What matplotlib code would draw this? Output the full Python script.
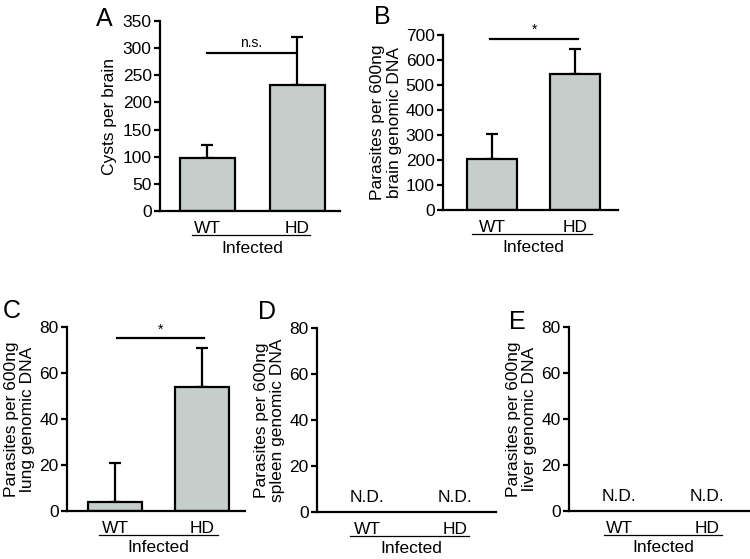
import matplotlib
matplotlib.use('Agg')
import matplotlib.pyplot as plt
from matplotlib.transforms import offset_copy

plt.rcParams['font.family'] = ['Liberation Sans', 'DejaVu Sans']

GROUPS = ['WT', 'HD']

cysts_mean = [97, 233]
cysts_err = [25, 87]

brain_mean = [205, 543]
brain_err = [100, 100]

lung_mean = [4, 54]
lung_err = [17, 17]

BAR_COLOR = '#c6cecc'
LW = 1.6
FS = 12.5


def style_axis(ax, ylim, yticks, xlim):
    ax.set_ylim(*ylim)
    ax.set_yticks(yticks)
    ax.set_xlim(*xlim)
    ax.set_xticks([0, 1], GROUPS)
    for side in ['top', 'right']:
        ax.spines[side].set_visible(False)
    for side in ['left', 'bottom']:
        ax.spines[side].set_linewidth(LW)
    ax.tick_params(axis='y', length=4, width=LW, labelsize=FS, pad=2)
    ax.tick_params(axis='x', length=0, labelsize=FS, pad=7)


def infected_label(ax, fig, x0, x1):
    trans = offset_copy(ax.get_xaxis_transform(), fig=fig, y=-24, units='dots')
    ax.plot([x0, x1], [0, 0], color='black', lw=0.9, transform=trans, clip_on=False)
    ax.annotate('Infected', xy=(0.5, 0), xycoords=('data', 'axes fraction'),
                xytext=(0, -37), textcoords='offset pixels',
                ha='center', va='center', fontsize=FS)


def bars(ax, means, errs, width):
    ax.bar([0, 1], means, width=width, color=BAR_COLOR, edgecolor='black',
           linewidth=LW, zorder=2)
    ax.errorbar([0, 1], means, yerr=[[0, 0], errs], fmt='none', ecolor='black',
                elinewidth=LW, capsize=4, capthick=LW, zorder=1)


def sig(ax, x0, x1, y, label, ty, size):
    ax.plot([x0, x1], [y, y], color='black', lw=LW, clip_on=False)
    ax.text((x0 + x1) / 2, ty, label, ha='center', va='center', fontsize=size,
            clip_on=False)


fig = plt.figure(figsize=(7.5, 5.59), dpi=100)

# A
axA = fig.add_axes([0.2133, 0.6225, 0.24, 0.3399])
bars(axA, cysts_mean, cysts_err, 0.61)
style_axis(axA, (0, 350), range(0, 351, 50), (-0.528, 1.472))
axA.set_ylabel('Cysts per brain', fontsize=FS, labelpad=4)
sig(axA, 0.0, 0.97, 292, 'n.s.', 310, 10)
infected_label(axA, fig, -0.17, 1.14)

# B
axB = fig.add_axes([0.5907, 0.6243, 0.2333, 0.3131])
bars(axB, brain_mean, brain_err, 0.60)
style_axis(axB, (0, 700), range(0, 701, 100), (-0.59, 1.518))
axB.set_ylabel('Parasites per 600ng\nbrain genomic DNA', fontsize=FS,
               labelpad=3, linespacing=1.1)
sig(axB, -0.02, 1.04, 684, '*', 722, 10)
infected_label(axB, fig, -0.24, 1.2)

# C
axC = fig.add_axes([0.0893, 0.0859, 0.2373, 0.3292])
bars(axC, lung_mean, lung_err, 0.617)
style_axis(axC, (0, 80), range(0, 81, 20), (-0.549, 1.486))
axC.set_ylabel('Parasites per 600ng\nlung genomic DNA', fontsize=FS,
               labelpad=3, linespacing=1.1)
sig(axC, 0.02, 1.02, 75.2, '*', 78.8, 10)
infected_label(axC, fig, -0.18, 1.18)

# D
axD = fig.add_axes([0.4227, 0.0841, 0.2387, 0.3292])
style_axis(axD, (0, 80), range(0, 81, 20), (-0.568, 1.466))
axD.set_ylabel('Parasites per 600ng\nspleen genomic DNA', fontsize=FS,
               labelpad=3, linespacing=1.1)
for i in [0, 1]:
    axD.text(i, 3, 'N.D.', ha='center', va='bottom', fontsize=FS)
infected_label(axD, fig, -0.19, 1.16)

# E
axE = fig.add_axes([0.7587, 0.0859, 0.2413, 0.3292])
style_axis(axE, (0, 80), range(0, 81, 20), (-0.568, 1.489))
axE.set_ylabel('Parasites per 600ng\nliver genomic DNA', fontsize=FS,
               labelpad=3, linespacing=1.1)
for i in [0, 1]:
    axE.text(i, 3, 'N.D.', ha='center', va='bottom', fontsize=FS)
infected_label(axE, fig, -0.17, 1.17)

# panel letters
for letter, x, y in [('A', 96, 7), ('B', 374, 5), ('C', 3, 299),
                     ('D', 258, 300), ('E', 509, 310)]:
    fig.text(x / 750, 1 - y / 559, letter, ha='left', va='top', fontsize=18)

fig.savefig('out.png', dpi=100)
